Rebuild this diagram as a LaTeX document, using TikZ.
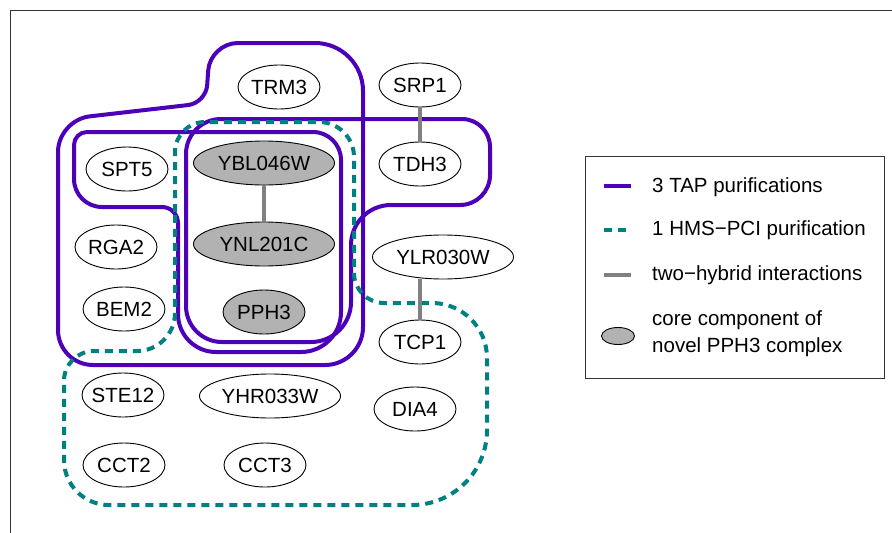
\documentclass[tikz,border=0pt]{standalone}
\usepackage{fontspec}
\setmainfont{Liberation Sans}
\definecolor{tapColor}{RGB}{76, 0, 186}
\definecolor{hmsColor}{RGB}{0, 128, 128}
\definecolor{hybridColor}{RGB}{128, 128, 128}
\definecolor{coreColor}{RGB}{178, 178, 178}
\usepackage{tikz}
\usetikzlibrary{shapes.geometric}

\begin{document}
\begin{tikzpicture}[
    x=1pt, y=-1pt,
    protein/.style={ellipse, draw, line width=0.9pt, fill=white, minimum width=82pt, minimum height=44pt, inner xsep=-8pt, inner ysep=0pt, font=\fontsize{20.5}{24}\selectfont},
    wide/.style={protein, minimum width=141pt},
    core/.style={fill=coreColor},
    tap/.style={draw=tapColor, line width=4pt},
    hms/.style={draw=hmsColor, line width=4pt, dash pattern=on 8pt off 6pt},
    hybrid/.style={draw=hybridColor, line width=3.5pt},
    legendtext/.style={anchor=west, inner sep=0pt, align=left, font=\fontsize{20.5}{27}\selectfont}
]
    \useasboundingbox (0,0) rectangle (892,533);
    \draw[line width=1pt, black!80] (10,533) -- (10,10) -- (892,10);

    \draw[tap] (58,250) [rounded corners=32pt] -- (58,120) [rounded corners=18pt] -- (206,103) [rounded corners=28pt] -- (210,43) [rounded corners=48pt] -- (363,43) [rounded corners=38pt] -- (363,365) [rounded corners=35pt] -- (58,365) -- cycle;
    \draw[tap] (200,132) [rounded corners=28pt] -- (341,132) [rounded corners=40pt] -- (341,352) [rounded corners=38pt] -- (178,352) [rounded corners=16pt] -- (178,207) [rounded corners=28pt] -- (74,207) [rounded corners=13pt] -- (74,132) -- cycle;
    \draw[tap] (300,119) [rounded corners=28pt] -- (490,119) [rounded corners=30pt] -- (490,205) [rounded corners=40pt] -- (351,205) [rounded corners=40pt] -- (351,342) [rounded corners=36pt] -- (186,342) [rounded corners=35pt] -- (186,119) -- cycle;
    \draw[hms] (175,250) [rounded corners=30pt] -- (175,122) [rounded corners=35pt] -- (354,122) [rounded corners=30pt] -- (354,303) [rounded corners=55pt] -- (487,303) [rounded corners=75pt] -- (487,505) [rounded corners=45pt] -- (64,505) [rounded corners=30pt] -- (64,351) [rounded corners=38pt] -- (175,351) -- cycle;

    \node[protein] (trm) at (279,87) {TRM3};
    \node[protein] (srp) at (420,85) {SRP1};
    \node[protein] (tdh) at (420,164) {TDH3};
    \node[protein] (spt) at (127,169) {SPT5};
    \node[wide, core] (ybl) at (264,163) {YBL046W};
    \node[wide, core] (ynl) at (264,244) {YNL201C};
    \node[protein] (rga) at (116,247) {RGA2};
    \node[wide] (ylr) at (443,257) {YLR030W};
    \node[protein] (bem) at (124,309) {BEM2};
    \node[protein, core] (pph) at (264,312) {PPH3};
    \node[protein] (tcp) at (420,342) {TCP1};
    \node[protein] (ste) at (123,395) {STE12};
    \node[wide] (yhr) at (270,396) {YHR033W};
    \node[protein] (dia) at (415,409) {DIA4};
    \node[protein] (cct2) at (124,465) {CCT2};
    \node[protein] (cct3) at (265,465) {CCT3};

    \draw[hybrid] (srp) -- (tdh);
    \draw[hybrid] (ybl) -- (ynl);
    \draw[hybrid] (tcp.north) -- (tcp.north |- ylr.south);

    \draw[line width=1pt, black!80] (585,156) rectangle (884,378);
    \draw[tap] (604,186) -- (631,186);
    \node[legendtext] (ltap) at (652,187) {3 TAP purifications};
    \draw[hms] (604,230) -- (631,230);
    \node[legendtext] (lhms) at (652,230) {1 HMS−PCI purification};
    \draw[hybrid] (604,275) -- (631,275);
    \node[legendtext] (lhyb) at (652,275) {two−hybrid interactions};
    \node[ellipse, draw, line width=0.9pt, fill=coreColor, minimum width=33pt, minimum height=17pt, inner sep=0pt] (lcore) at (618,336) {};
    \node[legendtext] (lcoretext) at (652,334) {core component of\\novel PPH3 complex};
\end{tikzpicture}
\end{document}
